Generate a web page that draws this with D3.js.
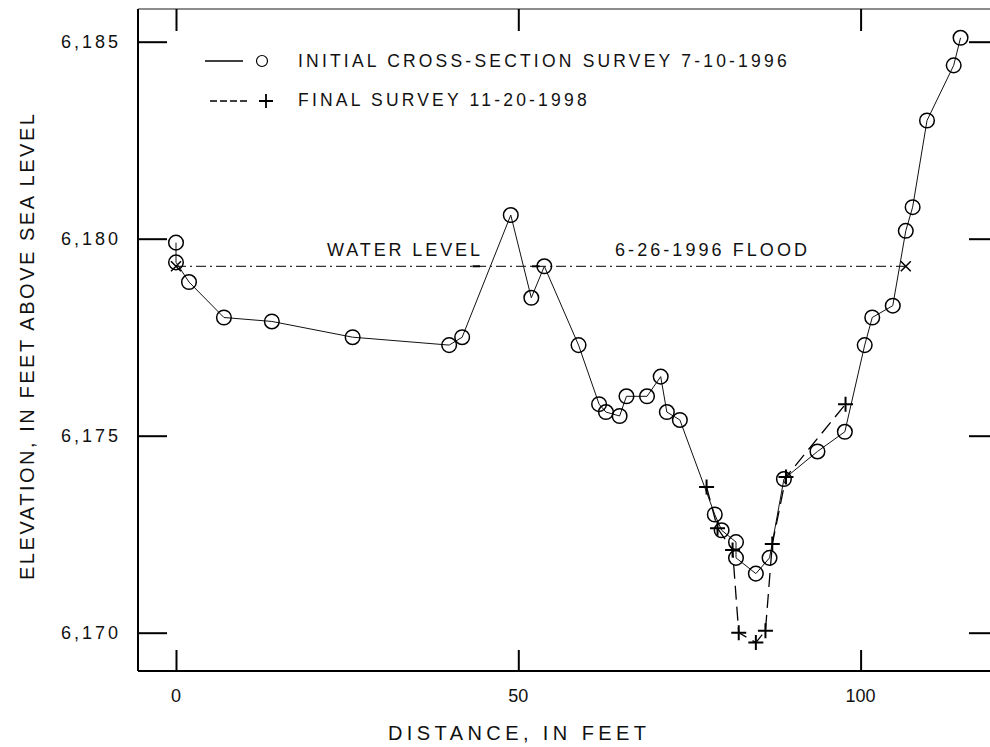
<!DOCTYPE html>
<html>
<head>
<meta charset="utf-8">
<script src="https://cdn.jsdelivr.net/npm/d3@7"></script>
<style>
  html, body { margin: 0; padding: 0; background: #fff; }
  svg { display: block; }
  text { font-family: "Liberation Sans", Arial, Helvetica, sans-serif; fill: #111; }
</style>
</head>
<body>
<svg id="chart" width="990" height="747"></svg>
<script>
// ---------------- data ----------------
const xTicks = [0, 50, 100];
const xTickLabels = ["0", "50", "100"];
const yTicks = [6170, 6175, 6180, 6185];
const yTickLabels = ["6,170", "6,175", "6,180", "6,185"];

// Initial cross-section survey 7-10-1996 (distance ft, elevation ft)
const initialDist = [0, 0, 1.9, 7.0, 14.0, 25.8, 39.9, 41.8, 48.9, 51.9, 53.8, 58.8,
  61.8, 62.8, 64.8, 65.8, 68.8, 70.8, 71.7, 73.6, 78.7, 79.7, 81.8, 81.8, 84.7, 86.7,
  88.8, 93.7, 97.7, 100.6, 101.7, 104.7, 106.6, 107.6, 109.7, 113.6, 114.6];
const initialElev = [6179.9, 6179.4, 6178.9, 6178.0, 6177.9, 6177.5, 6177.3, 6177.5,
  6180.6, 6178.5, 6179.3, 6177.3, 6175.8, 6175.6, 6175.5, 6176.0, 6176.0, 6176.5,
  6175.6, 6175.4, 6173.0, 6172.6, 6172.3, 6171.9, 6171.5, 6171.9, 6173.9, 6174.6,
  6175.1, 6177.3, 6178.0, 6178.3, 6180.2, 6180.8, 6183.0, 6184.4, 6185.1];

// Final survey 11-20-1998
const finalDist = [77.5, 79.1, 81.3, 82.2, 84.7, 86.1, 87.1, 89.1, 97.8];
const finalElev = [6173.7, 6172.65, 6172.1, 6170.0, 6169.75, 6170.05, 6172.25, 6173.95, 6175.8];

// Water level of 6-26-1996 flood
const waterDist = [0, 106.6];
const waterElev = 6179.3;
const waterMarkDist = [43.3, 52.0];   // short dark marks on the water-level line

const legendLabels = ["INITIAL CROSS-SECTION SURVEY 7-10-1996", "FINAL SURVEY 11-20-1998"];
const waterLabels = ["WATER LEVEL", "6-26-1996 FLOOD"];
const xTitle = "DISTANCE, IN FEET";
const yTitle = "ELEVATION, IN FEET ABOVE SEA LEVEL";

// ---------------- layout ----------------
const svg = d3.select("#chart");
const frame = { left: 138, right: 998, top: 9, bottom: 671 };

const x = d3.scaleLinear().domain([0, 100]).range([176, 860.6]);
const y = d3.scaleLinear().domain([6170, 6185]).range([632.7, 41.7]);

// frame
svg.append("line").attr("x1", frame.left).attr("x2", frame.right)
  .attr("y1", frame.top).attr("y2", frame.top)
  .attr("stroke", "#666").attr("stroke-width", 1.5);
svg.append("line").attr("x1", frame.right).attr("x2", frame.right)
  .attr("y1", frame.top).attr("y2", frame.bottom)
  .attr("stroke", "#000").attr("stroke-width", 2);
svg.append("line").attr("x1", frame.left).attr("x2", frame.left)
  .attr("y1", frame.top).attr("y2", frame.bottom)
  .attr("stroke", "#000").attr("stroke-width", 2);
svg.append("line").attr("x1", frame.left).attr("x2", frame.right)
  .attr("y1", frame.bottom).attr("y2", frame.bottom)
  .attr("stroke", "#000").attr("stroke-width", 2);

// axes with inward ticks
const leftAxis = d3.axisRight(y).tickValues(yTicks).tickSize(29).tickFormat("");
svg.append("g").attr("transform", `translate(${frame.left},0)`).call(leftAxis)
  .call(g => g.select(".domain").remove())
  .selectAll("line").attr("stroke", "#000").attr("stroke-width", 2);
const rightAxis = d3.axisLeft(y).tickValues(yTicks).tickSize(29).tickFormat("");
svg.append("g").attr("transform", `translate(${frame.right},0)`).call(rightAxis)
  .call(g => g.select(".domain").remove())
  .selectAll("line").attr("stroke", "#000").attr("stroke-width", 2);
const topAxis = d3.axisBottom(x).tickValues(xTicks).tickSize(22).tickFormat("");
svg.append("g").attr("transform", `translate(0,${frame.top})`).call(topAxis)
  .call(g => g.select(".domain").remove())
  .selectAll("line").attr("stroke", "#000").attr("stroke-width", 2);
const bottomAxis = d3.axisTop(x).tickValues(xTicks).tickSize(21).tickFormat("");
svg.append("g").attr("transform", `translate(0,${frame.bottom})`).call(bottomAxis)
  .call(g => g.select(".domain").remove())
  .selectAll("line").attr("stroke", "#000").attr("stroke-width", 2);

// tick labels
svg.append("g").selectAll("text").data(yTicks).join("text")
  .attr("x", 61).attr("y", d => y(d)).attr("dy", "0.35em")
  .attr("text-anchor", "start").attr("font-size", 18)
  .attr("textLength", 57).attr("lengthAdjust", "spacing")
  .text((d, i) => yTickLabels[i]);
svg.append("g").selectAll("text").data(xTicks).join("text")
  .attr("x", d => x(d)).attr("y", 696).attr("dy", "0.35em")
  .attr("text-anchor", "middle").attr("font-size", 18)
  .text((d, i) => xTickLabels[i]);

// axis titles
svg.append("text").attr("x", 388).attr("y", 733).attr("dy", "0.35em")
  .attr("text-anchor", "start").attr("font-size", 20)
  .attr("textLength", 258).attr("lengthAdjust", "spacing").text(xTitle);
svg.append("text").attr("transform", "translate(27,580) rotate(-90)")
  .attr("dy", "0.35em").attr("text-anchor", "start").attr("font-size", 20)
  .attr("textLength", 466).attr("lengthAdjust", "spacing")
  .text(yTitle);

// water level line
svg.append("line")
  .attr("x1", x(waterDist[0])).attr("x2", x(waterDist[1]))
  .attr("y1", y(waterElev)).attr("y2", y(waterElev))
  .attr("stroke", "#333").attr("stroke-width", 1.2)
  .attr("stroke-dasharray", "10,4,2,4");
svg.append("g").selectAll("line").data(waterMarkDist).join("line")
  .attr("x1", d => x(d)).attr("x2", d => x(d + 1.1))
  .attr("y1", y(waterElev)).attr("y2", y(waterElev))
  .attr("stroke", "#000").attr("stroke-width", 2);
const xMark = (g, cx, cy, s) => {
  g.append("path").attr("d", `M${cx - s},${cy - s}L${cx + s},${cy + s}M${cx - s},${cy + s}L${cx + s},${cy - s}`)
    .attr("stroke", "#000").attr("stroke-width", 1.5).attr("fill", "none");
};
const wm = svg.append("g");
waterDist.forEach(d => xMark(wm, x(d), y(waterElev), 5));

svg.append("text").attr("x", 327).attr("y", 256).attr("text-anchor", "start")
  .attr("font-size", 18).attr("textLength", 153).attr("lengthAdjust", "spacing")
  .text(waterLabels[0]);
svg.append("text").attr("x", 615).attr("y", 256).attr("text-anchor", "start")
  .attr("font-size", 18).attr("textLength", 192).attr("lengthAdjust", "spacing")
  .text(waterLabels[1]);

// initial survey line
const initialPts = initialDist.map((d, i) => [d, initialElev[i]]);
const lineGen = d3.line().x(d => x(d[0])).y(d => y(d[1]));
svg.append("path").datum(initialPts).attr("d", lineGen)
  .attr("fill", "none").attr("stroke", "#111").attr("stroke-width", 1);

// final survey dashed line
const finalPts = finalDist.map((d, i) => [d, finalElev[i]]);
svg.append("path").datum(finalPts).attr("d", lineGen)
  .attr("fill", "none").attr("stroke", "#000").attr("stroke-width", 1.3)
  .attr("stroke-dasharray", "14,7");

// circles
svg.append("g").selectAll("circle").data(initialPts).join("circle")
  .attr("cx", d => x(d[0])).attr("cy", d => y(d[1])).attr("r", 7.3)
  .attr("fill", "none").attr("stroke", "#000").attr("stroke-width", 1.5);

// plus markers
const plusPath = (cx, cy, s) => `M${cx - s},${cy}L${cx + s},${cy}M${cx},${cy - s}L${cx},${cy + s}`;
svg.append("g").selectAll("path").data(finalPts).join("path")
  .attr("d", d => plusPath(x(d[0]), y(d[1]), 7.5))
  .attr("stroke", "#000").attr("stroke-width", 2).attr("fill", "none");

// legend
const lg = svg.append("g");
lg.append("line").attr("x1", 205).attr("x2", 243).attr("y1", 61).attr("y2", 61)
  .attr("stroke", "#000").attr("stroke-width", 1.3);
lg.append("circle").attr("cx", 262).attr("cy", 61).attr("r", 5.5)
  .attr("fill", "none").attr("stroke", "#000").attr("stroke-width", 1.2);
lg.append("text").attr("x", 298).attr("y", 67).attr("font-size", 17.5)
  .attr("letter-spacing", 3.2).text(legendLabels[0]);
lg.append("line").attr("x1", 210).attr("x2", 250).attr("y1", 101).attr("y2", 101)
  .attr("stroke", "#000").attr("stroke-width", 1.3).attr("stroke-dasharray", "7,3");
lg.append("path").attr("d", plusPath(266, 101, 7))
  .attr("stroke", "#000").attr("stroke-width", 1.8).attr("fill", "none");
lg.append("text").attr("x", 298).attr("y", 106).attr("font-size", 17.5)
  .attr("letter-spacing", 3.2).text(legendLabels[1]);
</script>
</body>
</html>
